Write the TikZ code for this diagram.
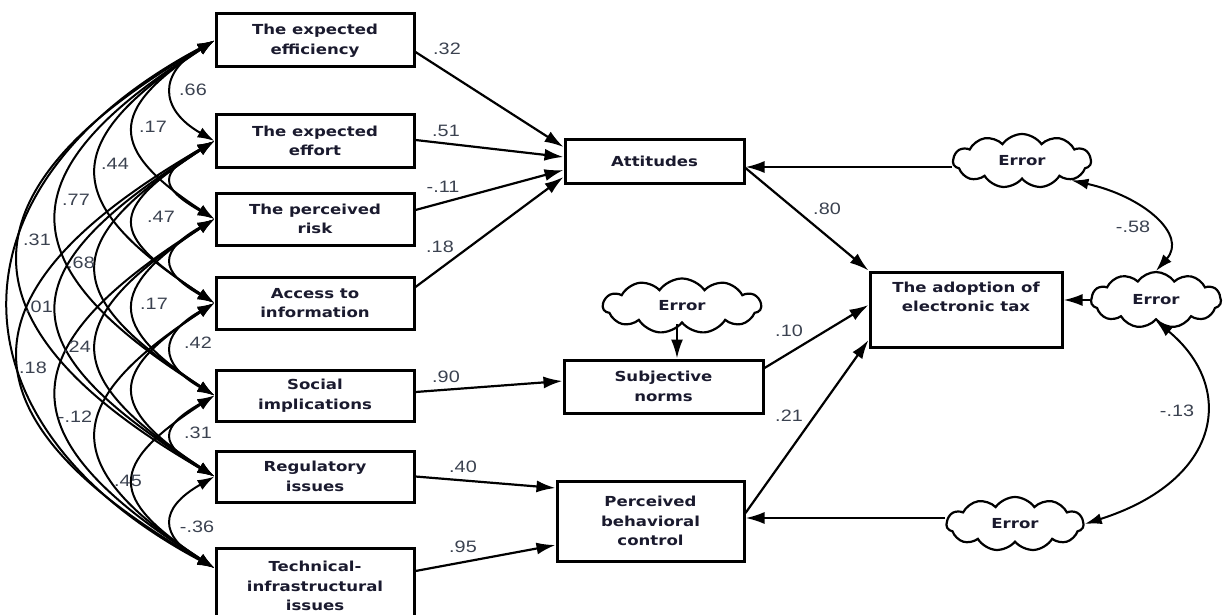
\documentclass[tikz,border=0pt]{standalone}
\usepackage{fontspec}
\usepackage{tikz}
\usetikzlibrary{arrows.meta,shapes.symbols}
\newfontfamily\boxfont{DejaVu Sans}[FakeStretch=1.2]
\newfontfamily\coeffont{Liberation Sans}[FakeStretch=1.2]
\definecolor{boxtext}{HTML}{1A1A2E}
\definecolor{coefgray}{HTML}{3B4250}

\begin{document}
\begin{tikzpicture}[
    x=1pt, y=-1pt,
    every node/.style={inner sep=0pt},
    var/.style={draw,line width=3pt,align=center,text=boxtext,
                minimum width=198pt,minimum height=52pt,
                font=\boxfont\bfseries\fontsize{13.8}{19.5}\selectfont},
    errcloud/.style={cloud,draw,line width=2.2pt,cloud puffs=11,cloud puff arc=110,
                cloud ignores aspect,text=boxtext,
                font=\boxfont\bfseries\fontsize{13.8}{16}\selectfont},
    coef/.style={text=coefgray,font=\coeffont\fontsize{16.5}{18}\selectfont},
    arr/.style={-{Latex[length=19pt,width=12pt]},line width=2.2pt},
    cov/.style={{Latex[length=17pt,width=11pt]}-{Latex[length=17pt,width=11pt]},line width=2pt}
  ]
  \useasboundingbox (0,0) rectangle (1223,615);

  % exogenous factors
  \node[var,minimum height=53pt] (eff) at (315,40.5) {The expected\\efficiency};
  \node[var] (effort) at (315,141) {The expected\\effort};
  \node[var] (risk) at (315,219) {The perceived\\risk};
  \node[var] (access) at (315,303) {Access to\\information};
  \node[var,minimum height=51pt] (social) at (315,395.5) {Social\\implications};
  \node[var,minimum height=51pt] (reg) at (315,476.5) {Regulatory\\issues};
  \node[var,minimum height=76pt] (tech) at (315,586) {Technical-\\infrastructural\\issues};

  % mediators and outcome
  \node[var,minimum width=179pt,minimum height=43pt] (att) at (654.5,161.5) {Attitudes};
  \node[var,minimum width=199pt,minimum height=53pt] (subj) at (663.5,386.5) {Subjective\\norms};
  \node[var,minimum width=187pt,minimum height=80pt] (pbc) at (650.5,521) {Perceived\\behavioral\\control};
  \node[var,minimum width=192pt,minimum height=75pt] (adopt) at (966,309.5) {The adoption of\\electronic tax\\\strut};

  % error terms
  \node[errcloud,minimum width=138pt,minimum height=54pt] (errA) at (1022,161) {Error};
  \node[errcloud,minimum width=130pt,minimum height=56pt] (errAd) at (1156,300) {Error};
  \node[errcloud,minimum width=137pt,minimum height=54pt] (errP) at (1015,524) {Error};
  \node[errcloud,minimum width=158pt,minimum height=55pt] (errS) at (682,306) {Error};

  % paths
  \draw[arr] ([yshift=-11.5pt]eff.east) -- ([yshift=14.5pt]att.west);
  \draw[arr] ([yshift=1pt]effort.east) -- ([yshift=4.5pt]att.west);
  \draw[arr] ([yshift=9pt]risk.east) -- ([yshift=-8.5pt]att.west);
  \draw[arr] ([yshift=16pt]access.east) -- ([yshift=-15.5pt]att.west);
  \draw[arr] ([yshift=3.5pt]social.east) -- ([yshift=5.5pt]subj.west);
  \draw[arr] (reg.east) -- ([yshift=33pt]pbc.west);
  \draw[arr] ([yshift=15pt]tech.east) -- ([yshift=-24pt]pbc.west);
  \draw[arr] ([yshift=-6.5pt]att.east) -- (adopt.north west);
  \draw[arr] ([yshift=18.5pt]subj.east) -- ([yshift=4.5pt]adopt.west);
  \draw[arr] ([yshift=8pt]pbc.east) -- ([yshift=-30.5pt]adopt.west);

  \draw[arr] ([xshift=-5pt]errS.south) -- ([xshift=-5pt]errS.south |- subj.north);
  \draw[arr] ([yshift=-6pt]errA.west) -- ([yshift=-6pt]errA.west -| att.east);
  \draw[arr] (errAd.west) -- (errAd.west -| adopt.east);
  \draw[arr] ([yshift=6pt]errP.west) -- ([yshift=6pt]errP.west -| pbc.east);

  \draw[cov] (errA.south east) .. controls +(72,16) and +(32,-36) .. (errAd.north);
  \draw[cov] (errAd.south) .. controls +(80,66) and +(138,-44) .. (errP.east);

  % correlations among the factors
  \coordinate (x1) at (eff.west);
  \coordinate (x2) at (effort.west);
  \coordinate (x3) at (risk.west);
  \coordinate (x4) at (access.west);
  \coordinate (x5) at (social.west);
  \coordinate (x6) at (reg.west);
  \coordinate (x7) at ([yshift=18pt]tech.west);
  \foreach \i in {1,...,6}{
    \pgfmathtruncatemacro\nx{\i+1}
    \foreach \j in {\nx,...,7}{
      \pgfmathtruncatemacro\s{\j-\i}
      \pgfmathsetmacro\ca{{56,107,156,209,260,273}[\s-1]}
      \pgfmathsetmacro\cb{{32,70,101,131,150,145}[\s-1]}
      \draw[cov] (x\i) .. controls +(-\ca,\cb) and +(-\ca,-\cb) .. (x\j);
    }
  }

  % coefficients
  \node[coef] (p1) at (447,49) {.32};
  \node[coef] (p2) at (446,131) {.51};
  \node[coef] (p3) at (443,187) {-.11};
  \node[coef] (p4) at (440,247) {.18};
  \node[coef] (p5) at (446,377) {.90};
  \node[coef] (p6) at (463,467) {.40};
  \node[coef] (p7) at (463,547) {.95};
  \node[coef] (p8) at (827,209) {.80};
  \node[coef] (p9) at (789,331) {.10};
  \node[coef] (p10) at (789,416) {.21};
  \node[coef] (p11) at (1133,227) {-.58};
  \node[coef] (p12) at (1177,411) {-.13};

  \node[coef] (r1) at (193,90) {.66};
  \node[coef] (r2) at (153,127) {.17};
  \node[coef] (r3) at (115,164) {.44};
  \node[coef] (r4) at (76,200) {.77};
  \node[coef] (r5) at (37,240) {.31};
  \node[coef] (r6) at (161,217) {.47};
  \node[coef] (r7) at (81,263) {.68};
  \node[coef] (r8) at (39,307) {.01};
  \node[coef] (r9) at (154,304) {.17};
  \node[coef] (r10) at (77,347) {.24};
  \node[coef] (r11) at (33,368) {.18};
  \node[coef] (r12) at (198,343) {.42};
  \node[coef] (r13) at (75,417) {-.12};
  \node[coef] (r14) at (198,433) {.31};
  \node[coef] (r15) at (128,481) {.45};
  \node[coef] (r16) at (197,527) {-.36};
\end{tikzpicture}
\end{document}
